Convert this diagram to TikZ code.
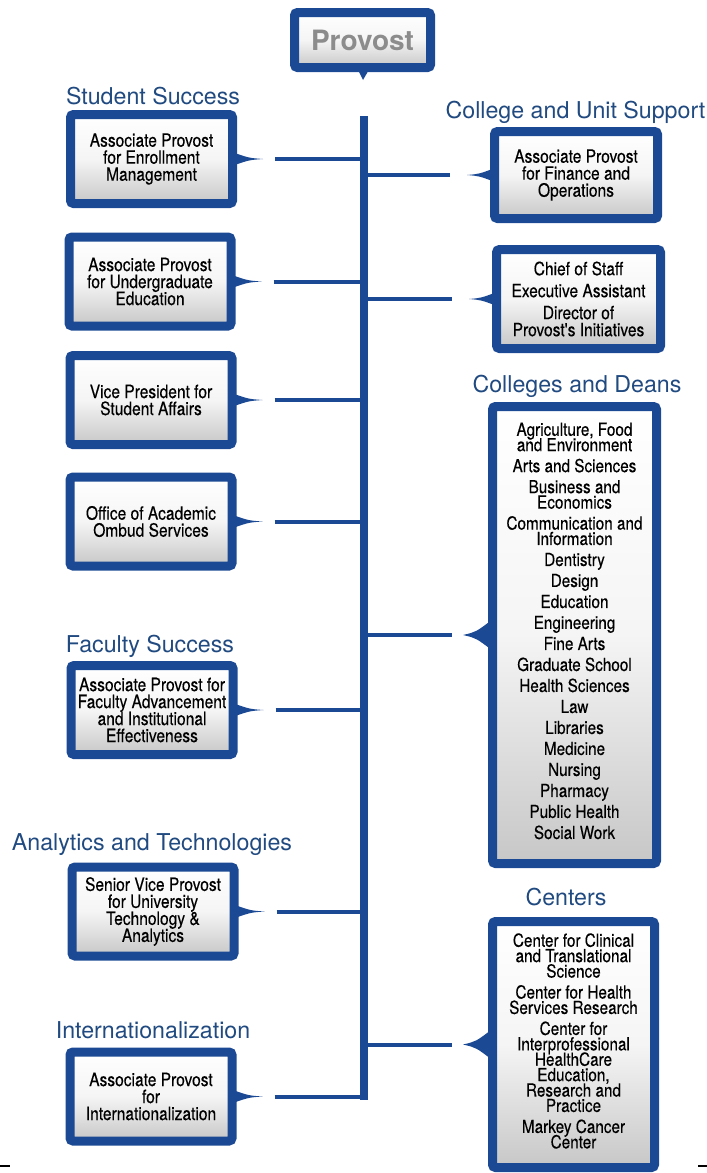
\documentclass[tikz,border=0pt]{standalone}
\usepackage{fontspec}
\setmainfont{TeX Gyre Heros}
\newfontfamily\boxfont[FakeStretch=0.85,FakeBold=0.3]{TeX Gyre Heros}
\usetikzlibrary{calc,shadows}

\definecolor{provblue}{RGB}{28,73,148}
\definecolor{headblue}{RGB}{32,74,128}
\definecolor{provgray}{RGB}{140,140,140}

\tikzset{
  unitbox/.style={draw=provblue, line width=9pt, rounded corners=3pt,
    top color=white, bottom color=black!22, middle color=white!96!black,
    align=center, inner sep=0pt, minimum width=162pt, minimum height=89pt,
    font=\boxfont\fontsize{18.3}{17}\selectfont,
    drop shadow={shadow xshift=2pt,shadow yshift=-2pt,opacity=.25}},
  listbox/.style={unitbox, font=\boxfont\fontsize{18}{15.4}\selectfont},
  grouplabel/.style={anchor=base, text=headblue, font=\fontsize{23.2}{23}\selectfont},
  trunk/.style={draw=provblue, line width=8pt},
  link/.style={draw=provblue, line width=4pt},
}

\begin{document}
\lineskiplimit=-20pt
\begin{tikzpicture}[x=1pt, y=-1pt]
	\useasboundingbox (0,0) rectangle (707,1173);

	\coordinate (trunktop) at (364,116);
	\coordinate (trunkbot) at (364,1100);
	\draw[trunk] (trunktop) -- (trunkbot);

	% top
	\node[unitbox, minimum width=136pt, minimum height=55pt,
	  font=\bfseries\fontsize{28}{28}\selectfont, text=provgray] (provost) at (362.5,40) {Provost};
	\fill[provblue] ($(provost.south)+(-6,-5)$) -- ($(provost.south)+(0.5,8)$) -- ($(provost.south)+(8,-5)$) -- cycle;

	% left column
	\node[grouplabel] (lstudent) at (153,104) {Student Success};
	\node[unitbox] (enroll) at (151.5,159) {Associate Provost\\ for Enrollment\\ Management};
	\node[unitbox] (undergrad) at (150,281.5) {Associate Provost\\ for Undergraduate\\ Education};
	\node[unitbox] (affairs) at (151,400) {Vice President for\\ Student Affairs};
	\node[unitbox] (ombud) at (151,521.5) {Office of Academic\\ Ombud Services};

	\node[grouplabel] (lfaculty) at (150,652) {Faculty Success};
	\node[unitbox] (faculty) at (152,710) {Associate Provost for\\ Faculty Advancement\\ and Institutional\\ Effectiveness};

	\node[grouplabel] (lanalytics) at (152,850) {Analytics and Technologies};
	\node[unitbox] (analytics) at (153,911.5) {Senior Vice Provost\\ for University\\ Technology \&\\ Analytics};

	\node[grouplabel] (lintl) at (153,1038) {Internationalization};
	\node[unitbox] (intl) at (151,1096.5) {Associate Provost\\ for\\ Internationalization};

	% right column
	\node[grouplabel] (lsupport) at (575.5,118) {College and Unit Support};
	\node[unitbox, minimum width=163pt, minimum height=87pt] (finance) at (576,175) {Associate Provost\\ for Finance and\\ Operations};
	\node[unitbox, minimum width=164pt, minimum height=99pt] (staff) at (578.5,299) {Chief of Staff\\[5pt] Executive Assistant\\[5pt] Director of\\ Provost's Initiatives};

	\node[grouplabel] (lcolleges) at (577,392) {Colleges and Deans};
	\node[listbox, minimum width=164pt, minimum height=457pt] (colleges) at (574.5,635) {Agriculture, Food\\ and Environment\\[5.6pt] Arts and Sciences\\[5.6pt] Business and\\ Economics\\[5.6pt] Communication and\\ Information\\[5.6pt] Dentistry\\[5.6pt] Design\\[5.6pt] Education\\[5.6pt] Engineering\\[5.6pt] Fine Arts\\[5.6pt] Graduate School\\[5.6pt] Health Sciences\\[5.6pt] Law\\[5.6pt] Libraries\\[5.6pt] Medicine\\[5.6pt] Nursing\\[5.6pt] Pharmacy\\[5.6pt] Public Health\\[5.6pt] Social Work\\[-7pt]};

	\node[grouplabel] (lcenters) at (566,905) {Centers};
	\node[listbox, minimum width=162pt, minimum height=246pt] (centers) at (573.5,1044.5) {Center for Clinical\\ and Translational\\ Science\\[5.6pt] Center for Health\\ Services Research\\[5.6pt] Center for\\ Interprofessional\\ HealthCare\\ Education,\\ Research and\\ Practice\\[5.6pt] Markey Cancer\\ Center\\[-8pt]};

	% pointers and links
	\foreach \b in {enroll,undergrad,affairs,ombud,faculty,analytics,intl}{
		\fill[provblue] ($(\b.east)+(-5,-7)$) .. controls ($(\b.east)+(12,-1)$) .. ($(\b.east)+(26,0)$)
		  .. controls ($(\b.east)+(12,1)$) .. ($(\b.east)+(-5,7)$) -- cycle;
		\draw[link] ($(\b.east)+(38,0)$) -- (trunktop |- \b.east);
	}
	\foreach \b in {finance,staff}{
		\fill[provblue] ($(\b.west)+(5,-7)$) .. controls ($(\b.west)+(-11,-1)$) .. ($(\b.west)+(-23,0)$)
		  .. controls ($(\b.west)+(-11,1)$) .. ($(\b.west)+(5,7)$) -- cycle;
		\draw[link] (trunktop |- \b.west) -- ($(\b.west)+(-40,0)$);
	}
	\foreach \b in {colleges,centers}{
		\fill[provblue] ($(\b.west)+(5,-16)$) .. controls ($(\b.west)+(-12,-3)$) .. ($(\b.west)+(-25,0)$)
		  .. controls ($(\b.west)+(-12,3)$) .. ($(\b.west)+(5,16)$) -- cycle;
		\draw[link] (trunktop |- \b.west) -- ($(\b.west)+(-36,0)$);
	}

	% crop marks
	\draw[line width=1.5pt] (0,1166) -- (10,1166);
	\draw[line width=1.5pt] (698,1166) -- (707,1166);
\end{tikzpicture}
\end{document}
